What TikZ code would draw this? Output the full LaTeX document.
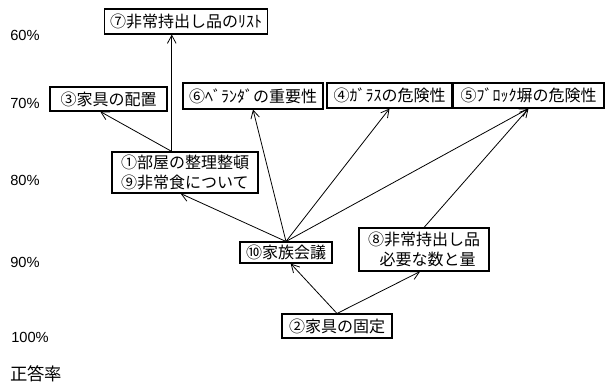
\documentclass[tikz,border=0pt]{standalone}
\usepackage{fontspec}
\setmainfont{Noto Sans CJK JP}
\newfontfamily\ratefont{Liberation Sans}
\usetikzlibrary{arrows.meta,calc}

\begin{document}
\begin{tikzpicture}[x=0.75pt,y=-0.75pt,
  item/.style={draw,line width=0.8pt,inner sep=0pt,font=\fontsize{12}{14.5}\selectfont},
  rate/.style={anchor=west,inner sep=0pt,font=\ratefont\fontsize{11}{13}\selectfont},
  link/.style={line width=0.6pt,-{Straight Barb[length=6pt,width=6.5pt]}}]
  \useasboundingbox (0,0) rectangle (605,383);
  % rates on the left
  \node[rate] (r60) at (10,35) {60\%};
  \node[rate] (r70) at (10,103) {70\%};
  \node[rate] (r80) at (10,180) {80\%};
  \node[rate] (r90) at (10,262) {90\%};
  \node[rate] (r100) at (11,337) {100\%};
  \node[rate,font=\fontsize{13}{15}\selectfont] (rtitle) at (10,374) {正答率};
  % items
  \node[item,minimum width=122.25pt,minimum height=18.75pt] (n7) at (186,21.5) {⑦非常持出し品のﾘｽﾄ};
  \node[item,minimum width=87.75pt,minimum height=18pt] (n3) at (108.5,99) {③家具の配置};
  \node[item,minimum width=105pt,minimum height=19.5pt] (n6) at (253,96) {⑥ﾍﾞﾗﾝﾀﾞの重要性};
  \node[item,minimum width=93.75pt,minimum height=18.75pt] (n4) at (389.5,95.5) {④ｶﾞﾗｽの危険性};
  \node[item,minimum width=113.25pt,minimum height=18.75pt] (n5) at (528.5,95.5) {⑤ﾌﾞﾛｯｸ塀の危険性};
  \node[item,minimum width=109.5pt,minimum height=30.75pt,align=left] (n19) at (185,172.5) {①部屋の整理整頓\\⑨非常食について};
  \node[item,minimum width=69pt,minimum height=15.75pt] (n10) at (286,252.5) {⑩家族会議};
  \node[item,minimum width=97.5pt,minimum height=32.25pt,align=center] (n8) at (424,249.5) {⑧非常持出し品\\\ \ 必要な数と量};
  \node[item,minimum width=82.5pt,minimum height=18pt] (n2) at (337,326) {②家具の固定};
  % links
  \coordinate (n19top) at ($(n19.north west)!0.41!(n19.north east)$);
  \draw[link] (n19top) -- (n19top |- n7.south);
  \draw[link] (n19top) -- ($(n3.south west)!0.43!(n3.south east)$);
  \draw[link] (n10.north) -- ($(n19.south west)!0.47!(n19.south east)$);
  \draw[link] (n10.north) -- (n6.south);
  \draw[link] (n10.north) -- (n4.south);
  \draw[link] (n10.north) -- (n5.south);
  \draw[link] (n8.north) -- (n5.south);
  \draw[link] (n2.north) -- ($(n10.south west)!0.55!(n10.south east)$);
  \draw[link] (n2.north) -- ($(n8.south west)!0.47!(n8.south east)$);
\end{tikzpicture}
\end{document}
